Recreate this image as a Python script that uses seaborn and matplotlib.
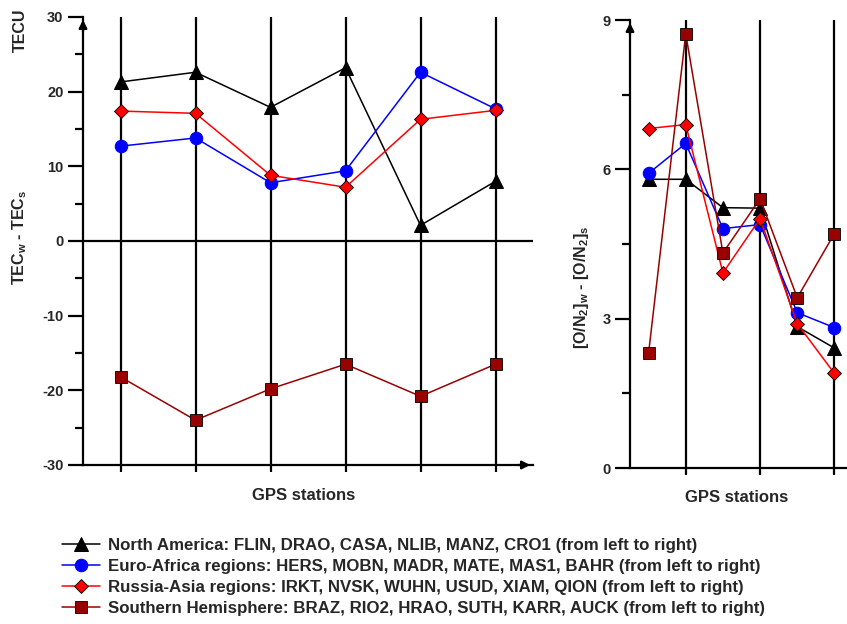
import matplotlib
matplotlib.use("Agg")
import matplotlib.pyplot as plt
import seaborn as sns
import numpy as np
from matplotlib.ticker import MultipleLocator

# station index (6 GPS stations per region, left to right)
stations = [0, 1, 2, 3, 4, 5]

# TECw - TECs (TECU)
tec_na = [21.3, 22.6, 17.9, 23.2, 2.1, 8.0]
tec_ea = [12.7, 13.8, 7.8, 9.4, 22.6, 17.7]
tec_ra = [17.4, 17.1, 8.8, 7.2, 16.3, 17.5]
tec_sh = [-18.2, -24.0, -19.8, -16.5, -20.8, -16.5]

# [O/N2]w - [O/N2]s
on2_na = [5.8, 5.8, 5.23, 5.22, 2.84, 2.41]
on2_ea = [5.92, 6.52, 4.81, 4.89, 3.12, 2.82]
on2_ra = [6.82, 6.9, 3.92, 5.01, 2.9, 1.9]
on2_sh = [2.31, 8.72, 4.32, 5.41, 3.42, 4.71]

labels = [
    "North America: FLIN, DRAO, CASA, NLIB, MANZ, CRO1 (from left to right)",
    "Euro-Africa regions: HERS, MOBN, MADR, MATE, MAS1, BAHR (from left to right)",
    "Russia-Asia regions: IRKT, NVSK, WUHN, USUD, XIAM, QION (from left to right)",
    "Southern Hemisphere: BRAZ, RIO2, HRAO, SUTH, KARR, AUCK (from left to right)",
]

sns.set_style("ticks")
plt.rcParams['font.family'] = ['Liberation Sans', 'DejaVu Sans']
plt.rcParams['font.weight'] = 'bold'
plt.rcParams['axes.unicode_minus'] = False
plt.rcParams['mathtext.fontset'] = 'custom'
plt.rcParams['mathtext.rm'] = 'Liberation Sans:bold'
plt.rcParams['mathtext.bf'] = 'Liberation Sans:bold'
plt.rcParams['mathtext.default'] = 'bf'

styles = [
    dict(color='black', marker='^', markersize=9.5, markerfacecolor='black', markeredgecolor='black'),
    dict(color='#0000ff', marker='o', markersize=9, markerfacecolor='#0000ff', markeredgecolor='#0000ff'),
    dict(color='#ff0000', marker='D', markersize=7.5, markerfacecolor='#ff0000', markeredgecolor='black', markeredgewidth=0.6),
    dict(color='#990000', marker='s', markersize=8.5, markerfacecolor='#990000', markeredgecolor='black', markeredgewidth=0.6),
]

W, H = 847, 624
fig = plt.figure(figsize=(W / 100, H / 100), dpi=100)
ax1 = fig.add_axes([83 / W, 1 - 465 / H, 450 / W, 448 / H])
ax2 = fig.add_axes([630 / W, 1 - 468 / H, 223 / W, 448 / H])


def style_axes(ax, vlines):
    for s in ['top', 'right']:
        ax.spines[s].set_visible(False)
    for s in ['left', 'bottom']:
        ax.spines[s].set_linewidth(1.6)
        ax.spines[s].set_color('black')
    for v in vlines:
        ax.axvline(v, color='black', lw=1.6, zorder=1)
    ax.set_xticks(vlines)
    ax.set_xticklabels([])
    ax.tick_params(axis='x', direction='out', length=5, width=1.6, color='black')
    ax.tick_params(axis='y', which='major', direction='out', length=11, width=1.6,
                   color='black', labelsize=10.5, pad=3)
    ax.tick_params(axis='y', which='minor', direction='out', length=5.5, width=1.6, color='black')
    for t in ax.get_yticklabels():
        t.set_fontweight('bold')
    ax.annotate('', xy=(0, 1.0), xytext=(0, 0.96), xycoords='axes fraction',
                arrowprops=dict(arrowstyle='-|>', color='black', lw=1.6,
                                mutation_scale=12), annotation_clip=False)


# left panel: TEC
for vals, st in zip([tec_na, tec_ea, tec_ra, tec_sh], styles):
    sns.lineplot(x=stations, y=vals, ax=ax1, lw=1.1, zorder=3, **st)
ax1.axhline(0, color='black', lw=1.6, zorder=1)
ax1.set_xlim(-0.5, 5.5)
ax1.set_ylim(-30, 30)
ax1.yaxis.set_major_locator(MultipleLocator(10))
ax1.yaxis.set_minor_locator(MultipleLocator(5))
style_axes(ax1, stations)
ax1.annotate('', xy=(1.0, 0), xytext=(0.96, 0), xycoords='axes fraction',
             arrowprops=dict(arrowstyle='-|>', color='black', lw=1.6, mutation_scale=12),
             annotation_clip=False)
ax1.set_xlabel('')
ax1.set_ylabel('')

# right panel: O/N2
for vals, st in zip([on2_na, on2_ea, on2_ra, on2_sh], styles):
    sns.lineplot(x=stations, y=vals, ax=ax2, lw=1.1, zorder=3, **st)
ax2.set_xlim(-0.5, 5.5)
ax2.set_ylim(0, 9)
ax2.yaxis.set_major_locator(MultipleLocator(3))
ax2.yaxis.set_minor_locator(MultipleLocator(1.5))
style_axes(ax2, [1, 3, 5])
ax2.set_xlabel('')
ax2.set_ylabel('')

# axis titles
fig.text(20 / W, 1 - 30 / H, 'TECU', rotation=90, ha='center', va='center',
         fontsize=11.5, fontweight='bold')
fig.text(20 / W, 1 - 237 / H, r'TEC$_{w}$ - TEC$_{s}$', rotation=90, ha='center',
         va='center', fontsize=11.5, fontweight='bold')
fig.text(581 / W, 1 - 287 / H, r'[O/N$_{2}$]$_{w}$ - [O/N$_{2}$]$_{s}$', rotation=90,
         ha='center', va='center', fontsize=11.5, fontweight='bold')
fig.text(304 / W, 1 - 496 / H, 'GPS stations', ha='center', va='center',
         fontsize=12, fontweight='bold')
fig.text(737 / W, 1 - 497 / H, 'GPS stations', ha='center', va='center',
         fontsize=12, fontweight='bold')

# legend
handles = ax1.get_lines()[:4]
leg = fig.legend(handles, labels, loc='upper left', bbox_to_anchor=(62 / W, 1 - 538 / H),
                 frameon=False, handlelength=2.25, handletextpad=0.45, labelspacing=0.36,
                 borderpad=0, borderaxespad=0,
                 prop=dict(family=['Liberation Sans', 'DejaVu Sans'], weight='bold', size=12.2))

fig.savefig('out.png', dpi=100)
